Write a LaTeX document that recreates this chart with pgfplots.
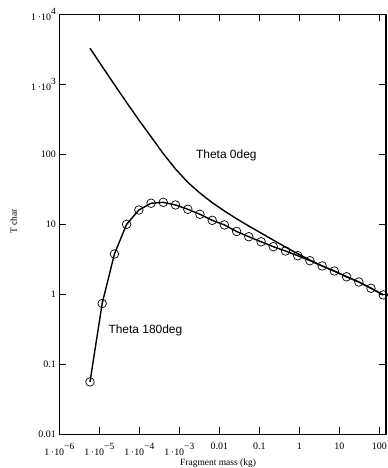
\documentclass[border=0pt]{standalone}
\usepackage{pgfplots}
\pgfplotsset{compat=1.18}
\usepackage{fontspec}
\setmainfont{Liberation Serif}
\newfontfamily\arialfont{Liberation Sans}
\newcommand{\tp}[1]{1\,·10\raisebox{0.62em}{\fontsize{9.5}{9.5}\selectfont #1}}
\begin{document}
\begin{tikzpicture}
\begin{axis}[
  at={(0,0)}, anchor=south west,
  scale only axis, width=326.7bp, height=420bp,
  xmode=log, ymode=log,
  xmin=1e-6, xmax=147, ymin=0.01, ymax=1e4,
  xtick={1e-6,1e-5,1e-4,1e-3,0.01,0.1,1,10,100},
  xticklabels={\tp{−6},\tp{−5},\tp{−4},\tp{−3},0.01,0.1,1,10,100},
  ytick={0.01,0.1,1,10,100,1000,10000},
  yticklabels={0.01,0.1,1,10,100,\tp{3},\tp{4}},
  xminorticks=false, yminorticks=false,
  tick align=inside, major tick length=7bp,
  tick style={line width=1bp, black},
  axis line style={line width=1.2bp},
  ticklabel style={font=\fontsize{10}{12}\selectfont},
  xticklabel style={yshift=-5bp},
  xlabel={Fragment mass (kg)}, ylabel={T char},
  label style={font=\fontsize{9.5}{11}\selectfont},
  xlabel style={at={(axis description cs:0.486,-0.068)}, anchor=center},
  ylabel style={at={(axis description cs:-0.14,0.506)}, anchor=center},
]
\addplot[black, line width=1.4bp, mark=o, mark size=4.3bp, mark options={line width=0.7bp, fill=none}] coordinates {
(5.85e-6,0.056) (1.18e-5,0.74) (2.39e-5,3.77) (4.82e-5,10.0) (9.75e-5,16.0)
(1.97e-4,20.0) (3.98e-4,20.6) (8.04e-4,18.9) (1.63e-3,16.4) (3.28e-3,13.9)
(6.64e-3,11.4) (1.34e-2,9.8) (2.71e-2,7.9) (5.47e-2,6.65) (0.111,5.63)
(0.223,4.79) (0.452,4.16) (0.912,3.56) (1.845,3.02) (3.72,2.54)
(7.53,2.15) (15.2,1.78) (30.8,1.50) (62.1,1.22) (125.6,0.98)
};
\addplot[black, line width=1.4bp, mark=none] coordinates {
(5.85e-6,3273) (1.18e-5,1799) (2.39e-5,989) (4.82e-5,550) (9.75e-5,309)
(1.97e-4,178) (3.98e-4,102) (8.04e-4,61.7) (1.63e-3,39.8) (3.28e-3,27.9)
(6.64e-3,20.4) (1.34e-2,15.5) (2.71e-2,12.0) (5.47e-2,9.44) (0.111,7.50)
(0.223,5.96) (0.452,4.73) (0.912,3.80) (1.845,3.09) (3.72,2.54)
(7.53,2.14) (15.2,1.78) (30.8,1.50) (62.1,1.22) (125.6,0.98)
};
\node[anchor=west, font=\arialfont\fontsize{12}{14}\selectfont, inner sep=0pt] at (axis cs:2.6e-3,98) {Theta 0deg};
\node[anchor=west, font=\arialfont\fontsize{12}{14}\selectfont, inner sep=0pt] at (axis cs:1.68e-5,0.30) {Theta 180deg};
\end{axis}
\pgfresetboundingbox
\path (-59.3bp,-33.7bp) rectangle (328.7bp,434.3bp);
\end{tikzpicture}
\end{document}
